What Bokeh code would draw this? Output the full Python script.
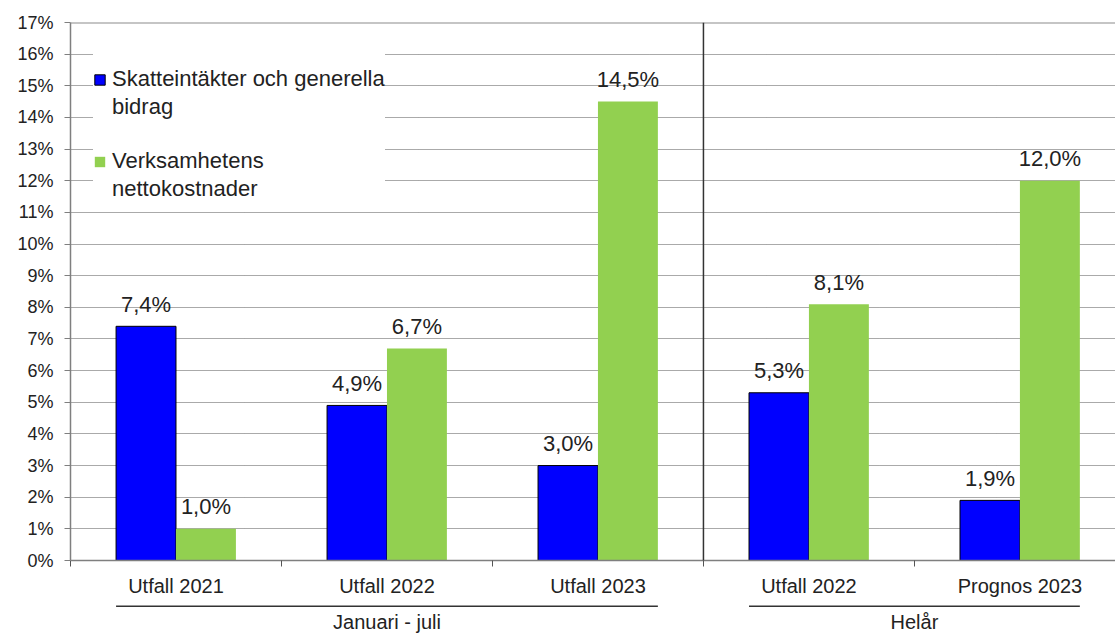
from bokeh.plotting import figure
from bokeh.models import Range1d, FixedTicker, Span, Legend, LegendItem, ColumnDataSource
from bokeh.layouts import column
from bokeh.core.properties import value
from bokeh.embed import file_html
from bokeh.resources import INLINE
import numpy as np

# ---- data ----
categories = ["Utfall 2021", "Utfall 2022", "Utfall 2023", "Utfall 2022", "Prognos 2023"]
skatt = [7.4, 4.9, 3.0, 5.3, 1.9]
netto = [1.0, 6.7, 14.5, 8.1, 12.0]
series_lines = [["Skatteintäkter och generella", "bidrag"], ["Verksamhetens", "nettokostnader"]]
groups = ["Januari - juli", "Helår"]
group_sizes = [3, 2]
y_ticks = list(range(0, 18))
y_tick_labels = [f"{t}%" for t in y_ticks]

FONT = "Liberation Sans"
BLUE = "#0000FF"
GREEN = "#92D050"
TXT = "#222222"

idx = np.arange(len(categories))
w = 0.284

def fmt(v):
    return f"{v:.1f}".replace(".", ",") + "%"

src_b = ColumnDataSource(dict(x=idx - w / 2, top=skatt, lab=[fmt(v) for v in skatt]))
src_g = ColumnDataSource(dict(x=idx + w / 2, top=netto, lab=[fmt(v) for v in netto]))

W = 1115
LEFT = 70

p = figure(width=W, height=602, output_backend="svg", toolbar_location=None,
           x_range=Range1d(-0.5, 4.453), y_range=Range1d(0, 17),
           min_border_left=LEFT, min_border_right=0, min_border_top=22, min_border_bottom=42)
p.outline_line_color = None
p.background_fill_color = "white"

rb = p.vbar(x="x", top="top", width=w, bottom=0, source=src_b, fill_color=BLUE,
            line_color="black", line_width=1)
rg = p.vbar(x="x", top="top", width=w, bottom=0, source=src_g, fill_color=GREEN,
            line_color=None)
# transparent renderer used only for legend spacer / continuation lines
blank = p.vbar(x=[], top=[], width=w, fill_alpha=0, line_alpha=0)

for s in (src_b, src_g):
    p.text(x="x", y="top", text="lab", source=s, text_align="center",
           text_baseline="middle", y_offset=-22,
           text_font=value(FONT), text_font_size="22px", text_color=TXT)

# grid
p.xgrid.visible = False
p.ygrid.ticker = FixedTicker(ticks=y_ticks[:-1])
p.ygrid.grid_line_color = "#555555"
p.ygrid.grid_line_dash = "1 1"
p.ygrid.grid_line_width = 1

# top border and separator
p.add_layout(Span(location=17, dimension="width", line_color="#8c8c8c", line_width=2))
p.add_layout(Span(location=2.5, dimension="height", line_color="#333333", line_width=1.5))

# y axis
p.yaxis.ticker = FixedTicker(ticks=y_ticks)
p.yaxis.major_label_overrides = {float(t): l for t, l in zip(y_ticks, y_tick_labels)}
p.yaxis.axis_line_color = "#7f7f7f"
p.yaxis.axis_line_width = 1.5
p.yaxis.major_tick_line_color = "#7f7f7f"
p.yaxis.major_tick_in = 0
p.yaxis.major_tick_out = 6
p.yaxis.minor_tick_line_color = None
p.yaxis.major_label_standoff = 11
p.yaxis.major_label_text_font = FONT
p.yaxis.major_label_text_font_size = "18px"
p.yaxis.major_label_text_color = TXT

# x axis
p.xaxis.ticker = FixedTicker(ticks=list(idx.astype(float)),
                             minor_ticks=list((idx[:-1] + 0.5).astype(float)) + [-0.5])
p.xaxis.major_label_overrides = {float(i): c for i, c in zip(idx, categories)}
p.xaxis.axis_line_color = "#7f7f7f"
p.xaxis.axis_line_width = 1.5
p.xaxis.major_tick_line_color = None
p.xaxis.major_tick_in = 0
p.xaxis.major_tick_out = 0
p.xaxis.minor_tick_line_color = "#555555"
p.xaxis.minor_tick_in = 0
p.xaxis.minor_tick_out = 6
p.xaxis.major_label_standoff = 8
p.xaxis.major_label_text_font = FONT
p.xaxis.major_label_text_font_size = "20px"
p.xaxis.major_label_text_color = TXT

# legend (each series on two lines; glyph next to first line)
items = [
    LegendItem(label=" ", renderers=[blank]),
    LegendItem(label=series_lines[0][0], renderers=[rb]),
    LegendItem(label=series_lines[0][1], renderers=[blank]),
    LegendItem(label=" ", renderers=[blank]),
    LegendItem(label=series_lines[1][0], renderers=[rg]),
    LegendItem(label=series_lines[1][1], renderers=[blank]),
]
legend = Legend(items=items, location=(23, 358), orientation="vertical",
                background_fill_color="white", background_fill_alpha=1.0,
                border_line_color=None, padding=11, margin=0, spacing=2,
                glyph_width=13, glyph_height=13, label_height=24, label_standoff=6,
                label_text_font=FONT, label_text_font_size="22px",
                label_text_color=TXT, label_text_baseline="middle")
p.add_layout(legend, "center")

# group labels below
p2 = figure(width=W, height=31, output_backend="svg", toolbar_location=None,
            x_range=p.x_range, y_range=Range1d(0, 1),
            x_axis_location=None, y_axis_location=None,
            min_border_left=LEFT, min_border_right=0, min_border_top=0, min_border_bottom=0)
p2.outline_line_color = None
p2.xgrid.visible = False
p2.ygrid.visible = False

starts = np.cumsum([0] + group_sizes[:-1])
ends = starts + np.array(group_sizes) - 1
x0 = starts - w
x1 = ends + w
p2.segment(x0=x0, x1=x1, y0=[0.88] * len(groups), y1=[0.88] * len(groups),
           line_color="#333333", line_width=1.5)
p2.text(x=(x0 + x1) / 2, y=[0.38] * len(groups), text=groups, text_align="center",
        text_baseline="middle", text_font=value(FONT), text_font_size="20px", text_color=TXT)

layout = column(p, p2, spacing=0)
open("out.html", "w").write(file_html(layout, INLINE))
